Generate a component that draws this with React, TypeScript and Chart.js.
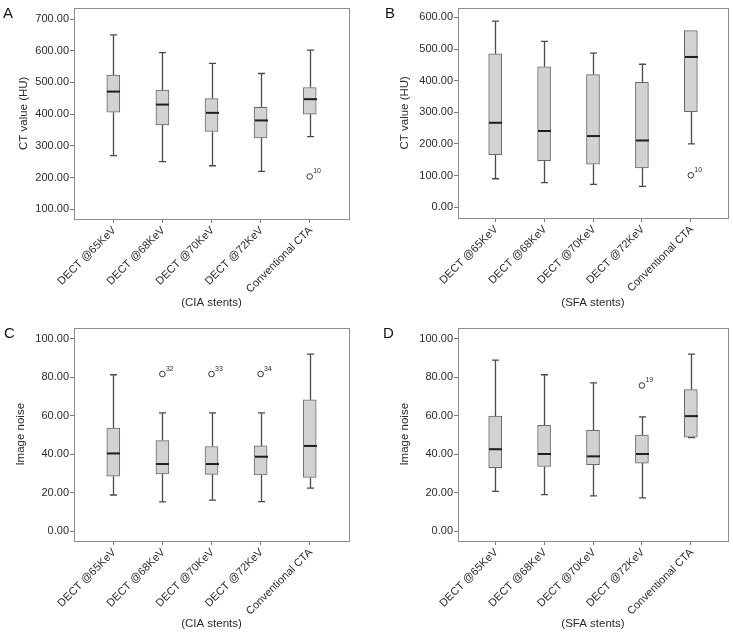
import React, { useEffect, useRef } from 'react';
import { Chart, registerables } from 'chart.js';
Chart.register(...registerables);

const FONT = "'Liberation Sans', Arial, Helvetica, sans-serif";

const categories = ['DECT @65KeV', 'DECT @68KeV', 'DECT @70KeV', 'DECT @72KeV', 'Conventional CTA'];

// Panel A — CT value, CIA stents
const aLow = [269, 250, 237, 219, 329];
const aQ1 = [406, 366, 345, 325, 400];
const aMedian = [471, 430, 404, 380, 447];
const aQ3 = [523, 476, 449, 421, 484];
const aHigh = [650, 594, 560, 528, 602];
const aOutliers = [{ cat: 4, value: 203, label: '10' }];
const aTicks = [100, 200, 300, 400, 500, 600, 700];

// Panel B — CT value, SFA stents
const bLow = [90, 78, 72, 66, 200];
const bQ1 = [166, 147, 136, 124, 302];
const bMedian = [267, 241, 225, 211, 475];
const bQ3 = [485, 444, 419, 395, 558];
const bHigh = [588, 524, 487, 452, 558];
const bOutliers = [{ cat: 4, value: 101, label: '10' }];
const bTicks = [0, 100, 200, 300, 400, 500, 600];

// Panel C — Image noise, CIA stents
const cLow = [18.8, 15.2, 16.1, 15.4, 22.4];
const cQ1 = [28.6, 29.8, 29.5, 29.3, 27.9];
const cMedian = [40.4, 34.9, 34.9, 38.7, 44.3];
const cQ3 = [53.6, 47.1, 44.0, 44.3, 68.3];
const cHigh = [81.3, 61.5, 61.5, 61.5, 92.0];
const cOutliers = [
  { cat: 1, value: 81.7, label: '32' },
  { cat: 2, value: 81.7, label: '33' },
  { cat: 3, value: 81.7, label: '34' },
];
const noiseTicks = [0, 20, 40, 60, 80, 100];

// Panel D — Image noise, SFA stents
const dLow = [20.7, 19.0, 18.3, 17.3, 48.6];
const dQ1 = [33.0, 33.6, 34.6, 35.4, 48.8];
const dMedian = [42.6, 40.1, 38.9, 40.1, 59.8];
const dQ3 = [59.8, 55.0, 52.4, 50.0, 73.6];
const dHigh = [88.9, 81.3, 77.1, 59.4, 92.0];
const dOutliers = [{ cat: 3, value: 75.7, label: '19' }];

type Outlier = { cat: number; value: number; label: string };
type PanelProps = {
  letter: string;
  rect: { x: number; y: number; w: number; h: number };
  area: { l: number; t: number; r: number; b: number };
  xRange: [number, number];
  yRange: [number, number];
  yTicks: number[];
  low: number[];
  q1: number[];
  median: number[];
  q3: number[];
  high: number[];
  outliers: Outlier[];
  yTitle: string;
  xTitle: string;
  yTitleX: number;
  xTitleY: number;
  letterX: number;
};

const TEXT = '#2b2b2b';
const TITLE_SIZE = 11.5;
const LH = 1.2;

function Panel(p: PanelProps) {
  const ref = useRef<HTMLCanvasElement>(null);
  useEffect(() => {
    const canvas = ref.current!;
    const extras = {
      id: 'boxExtras',
      beforeDatasetsDraw(chart: any) {
        const ctx = chart.ctx;
        const xs = chart.scales.x;
        const ys = chart.scales.y;
        ctx.save();
        ctx.strokeStyle = '#4a4a4a';
        ctx.lineWidth = 1.3;
        categories.forEach((_, i) => {
          const cx = Math.round(xs.getPixelForValue(i)) + 0.5;
          const yl = ys.getPixelForValue(p.low[i]);
          const y1 = ys.getPixelForValue(p.q1[i]);
          const y3 = ys.getPixelForValue(p.q3[i]);
          const yh = ys.getPixelForValue(p.high[i]);
          ctx.beginPath();
          ctx.moveTo(cx, yh);
          ctx.lineTo(cx, y3);
          ctx.moveTo(cx, y1);
          ctx.lineTo(cx, yl);
          if (p.high[i] > p.q3[i]) {
            ctx.moveTo(cx - 3.5, yh);
            ctx.lineTo(cx + 3.5, yh);
          }
          if (p.low[i] < p.q1[i]) {
            ctx.moveTo(cx - 3.5, yl);
            ctx.lineTo(cx + 3.5, yl);
          }
          ctx.stroke();
        });
        ctx.restore();
      },
      afterDatasetsDraw(chart: any) {
        const ctx = chart.ctx;
        const xs = chart.scales.x;
        const ys = chart.scales.y;
        ctx.save();
        ctx.strokeStyle = '#1e1e1e';
        ctx.lineWidth = 2;
        categories.forEach((_, i) => {
          const cx = Math.round(xs.getPixelForValue(i)) + 0.5;
          const ym = ys.getPixelForValue(p.median[i]);
          ctx.beginPath();
          ctx.moveTo(cx - 6.5, ym);
          ctx.lineTo(cx + 6.5, ym);
          ctx.stroke();
        });
        ctx.fillStyle = TEXT;
        ctx.font = `7px ${FONT}`;
        ctx.textAlign = 'left';
        ctx.textBaseline = 'middle';
        p.outliers.forEach((o) => {
          const cx = xs.getPixelForValue(o.cat);
          const cy = ys.getPixelForValue(o.value);
          ctx.fillText(o.label, cx + 3.5, cy - 5);
        });
        ctx.restore();
      },
      afterDraw(chart: any) {
        const ctx = chart.ctx;
        const a = chart.chartArea;
        ctx.save();
        ctx.strokeStyle = '#8c8c8c';
        ctx.lineWidth = 1;
        ctx.strokeRect(Math.round(a.left) + 0.5, Math.round(a.top) + 0.5, Math.round(a.right - a.left), Math.round(a.bottom - a.top));
        ctx.fillStyle = '#111';
        ctx.font = `15px ${FONT}`;
        ctx.textAlign = 'left';
        ctx.textBaseline = 'alphabetic';
        ctx.fillText(p.letter, p.letterX, 17.5);
        ctx.restore();
      },
    };

    const chart = new Chart(canvas, {
      type: 'bar',
      data: {
        datasets: [
          {
            type: 'bar',
            data: categories.map((_, i) => ({ x: i, y: [p.q1[i], p.q3[i]] })) as any,
            backgroundColor: '#d2d2d2',
            borderColor: '#6a6a6a',
            borderWidth: 1,
            borderSkipped: false,
            barThickness: 13,
          },
          {
            type: 'scatter',
            data: p.outliers.map((o) => ({ x: o.cat, y: o.value })),
            pointStyle: 'circle',
            pointRadius: 2.8,
            pointBackgroundColor: 'rgba(0,0,0,0)',
            pointBorderColor: '#333',
            pointBorderWidth: 1,
          } as any,
        ],
      },
      options: {
        animation: false,
        responsive: false,
        devicePixelRatio: 1,
        layout: { padding: { left: 0, top: p.area.t, right: p.rect.w - p.area.r, bottom: 0 } },
        plugins: { legend: { display: false }, tooltip: { enabled: false } },
        scales: {
          x: {
            type: 'linear',
            offset: false,
            min: p.xRange[0],
            max: p.xRange[1],
            afterBuildTicks: (s: any) => {
              s.ticks = categories.map((_, i) => ({ value: i }));
            },
            afterFit: (s: any) => {
              s.height = p.rect.h - p.area.b;
            },
            grid: { display: true, offset: false, drawOnChartArea: false, drawTicks: true, tickLength: 4, color: '#7a7a7a' },
            border: { display: false },
            ticks: {
              autoSkip: false,
              minRotation: 45,
              maxRotation: 45,
              padding: 1,
              labelOffset: 1,
              color: TEXT,
              font: { family: FONT, size: 11 },
              callback: (v: any) => categories[v as number] ?? '',
            },
            title: {
              display: true,
              text: p.xTitle,
              color: TEXT,
              font: { family: FONT, size: TITLE_SIZE, lineHeight: LH },
              padding: { top: 0, bottom: p.rect.h - p.xTitleY - (TITLE_SIZE * LH) / 2 },
            },
          },
          y: {
            type: 'linear',
            min: p.yRange[0],
            max: p.yRange[1],
            afterBuildTicks: (s: any) => {
              s.ticks = p.yTicks.map((v) => ({ value: v }));
            },
            afterFit: (s: any) => {
              s.width = p.area.l;
            },
            grid: { display: true, drawOnChartArea: false, drawTicks: true, tickLength: 4, color: '#7a7a7a' },
            border: { display: false },
            ticks: {
              padding: 1,
              color: TEXT,
              font: { family: FONT, size: 11 },
              callback: (v: any) => Number(v).toFixed(2),
            },
            title: {
              display: true,
              text: p.yTitle,
              color: TEXT,
              font: { family: FONT, size: TITLE_SIZE, lineHeight: LH },
              padding: { top: p.yTitleX - (TITLE_SIZE * LH) / 2, bottom: 0 },
            },
          },
        },
      } as any,
      plugins: [extras],
    });
    return () => chart.destroy();
  }, []);

  return (
    <canvas
      ref={ref}
      width={p.rect.w}
      height={p.rect.h}
      style={{ position: 'absolute', left: p.rect.x, top: p.rect.y, width: p.rect.w, height: p.rect.h }}
    />
  );
}

export default function App() {
  return (
    <div style={{ position: 'absolute', left: 0, top: 0, width: 733, height: 633, background: '#fff' }}>
      <Panel
        letter="A"
        rect={{ x: 0, y: 0, w: 366, h: 320 }}
        area={{ l: 74, t: 2, r: 349, b: 219 }}
        xRange={[-0.8, 4.8]}
        yRange={[69, 736]}
        yTicks={aTicks}
        low={aLow}
        q1={aQ1}
        median={aMedian}
        q3={aQ3}
        high={aHigh}
        outliers={aOutliers}
        yTitle="CT value (HU)"
        xTitle="(CIA stents)"
        yTitleX={24}
        xTitleY={303}
        letterX={3}
      />
      <Panel
        letter="B"
        rect={{ x: 366, y: 0, w: 367, h: 320 }}
        area={{ l: 92, t: 3, r: 365, b: 218 }}
        xRange={[-0.76, 4.76]}
        yRange={[-34, 631]}
        yTicks={bTicks}
        low={bLow}
        q1={bQ1}
        median={bMedian}
        q3={bQ3}
        high={bHigh}
        outliers={bOutliers}
        yTitle="CT value (HU)"
        xTitle="(SFA stents)"
        yTitleX={39}
        xTitleY={303}
        letterX={19}
      />
      <Panel
        letter="C"
        rect={{ x: 0, y: 320, w: 366, h: 313 }}
        area={{ l: 74, t: 5, r: 349, b: 221 }}
        xRange={[-0.8, 4.8]}
        yRange={[-5.1, 105.8]}
        yTicks={noiseTicks}
        low={cLow}
        q1={cQ1}
        median={cMedian}
        q3={cQ3}
        high={cHigh}
        outliers={cOutliers}
        yTitle="Image noise"
        xTitle="(CIA stents)"
        yTitleX={21}
        xTitleY={304}
        letterX={4}
      />
      <Panel
        letter="D"
        rect={{ x: 366, y: 320, w: 367, h: 313 }}
        area={{ l: 92, t: 5, r: 365, b: 221 }}
        xRange={[-0.76, 4.76]}
        yRange={[-5.1, 105.8]}
        yTicks={noiseTicks}
        low={dLow}
        q1={dQ1}
        median={dMedian}
        q3={dQ3}
        high={dHigh}
        outliers={dOutliers}
        yTitle="Image noise"
        xTitle="(SFA stents)"
        yTitleX={39}
        xTitleY={304}
        letterX={17}
      />
    </div>
  );
}
